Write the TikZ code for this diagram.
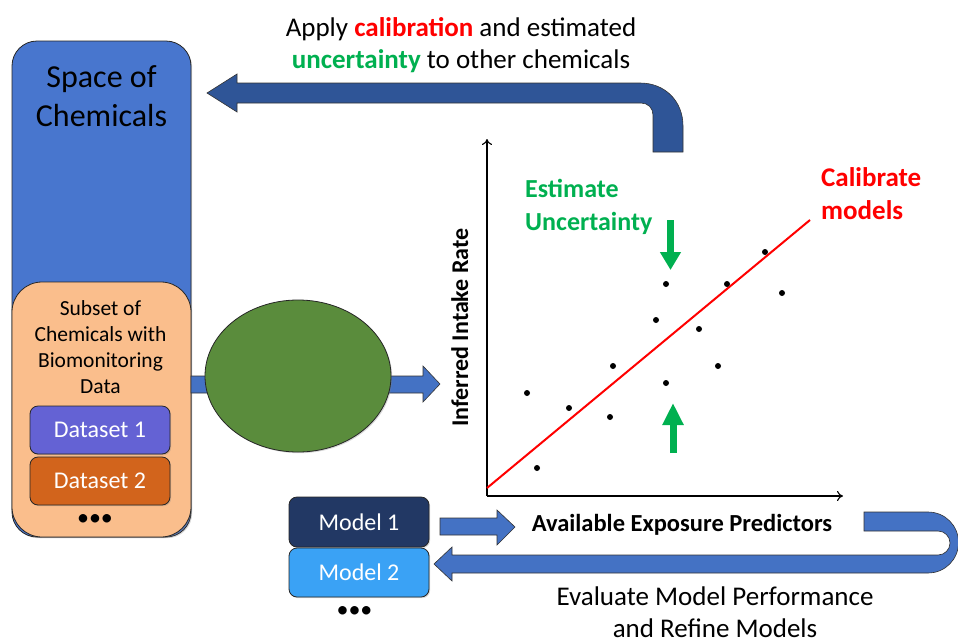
\documentclass[tikz,border=0pt]{standalone}
\usepackage{fontspec}
\setmainfont{Carlito}
\usetikzlibrary{arrows.meta,positioning,calc,shapes.geometric,shadows}

\definecolor{spaceblue}{RGB}{72,118,206}
\definecolor{arrowblue}{RGB}{68,114,196}
\definecolor{darkarrow}{RGB}{47,85,151}
\definecolor{peach}{RGB}{250,190,140}
\definecolor{setpurple}{RGB}{100,98,212}
\definecolor{setorange}{RGB}{210,100,28}
\definecolor{modelnavy}{RGB}{34,56,100}
\definecolor{modelsky}{RGB}{58,162,245}
\definecolor{fitgreen}{RGB}{90,140,60}
\definecolor{uncgreen}{RGB}{0,176,80}

\tikzset{
  box/.style={draw=black!85, line width=0.8pt, rounded corners=8pt, inner sep=0pt,
    drop shadow={shadow xshift=1.2pt, shadow yshift=-1.2pt, opacity=0.3}},
  setbox/.style={box, text=white, minimum width=140pt, font=\fontsize{24}{28}\selectfont},
  blockarrow/.style={draw=black!80, line width=0.6pt},
  lbl/.style={inner sep=0pt},
  axis/.style={line width=1.1pt, -{To[length=6pt,width=10pt]}},
}

\begin{document}
\begin{tikzpicture}[x=1pt,y=-1pt]
  \useasboundingbox (0,0) rectangle (958,643);
  % space of chemicals
  \node[box, rounded corners=25pt, fill=spaceblue, minimum width=179pt, minimum height=496pt] (space) at (101.5,289) {};
  \node[lbl, align=center, font=\fontsize{32}{39}\selectfont] (spacetxt) at (101.5,96) {Space of\\Chemicals};
  % subset with biomonitoring data
  \node[box, rounded corners=30pt, fill=peach, minimum width=179pt, minimum height=255pt] (subset) at (101.5,409.5) {};
  \node[lbl, align=center, font=\fontsize{21.5}{26}\selectfont] (subsettxt) at (100.5,347) {Subset of\\Chemicals with\\Biomonitoring\\Data};
  \node[setbox, fill=setpurple, minimum height=48pt] (data1) at (100,430) {Dataset 1};
  \node[setbox, fill=setorange, minimum height=48pt] (data2) at (100,481) {Dataset 2};
  \node[lbl, anchor=base, font=\fontsize{24}{28}\selectfont] (datadots) at (95,525) {•••};

  % apply step, back to the space of chemicals
  \filldraw[blockarrow, fill=darkarrow] (653,152) -- (653,115) .. controls (653,108) and (648,103) .. (641,103)
    -- (237,103) -- (237,112) -- (207,93) -- (237,74) -- (237,83) -- (640,83)
    .. controls (665,83) and (683,101) .. (683,126) -- (683,152) -- cycle;
  \node[lbl, align=center, font=\fontsize{27}{32}\selectfont] (applytxt) at (461,45)
    {Apply \textcolor{red}{\textbf{calibration}} and estimated\\\textcolor{uncgreen}{\textbf{uncertainty}} to other chemicals};

  % data into the fit
  \filldraw[blockarrow, fill=arrowblue] (191,376) -- (423,376) -- (423,366) -- (440,384)
    -- (423,402) -- (423,393) -- (191,393) -- cycle;
  \node[ellipse, draw=black!85, line width=0.8pt, fill=fitgreen, minimum width=186pt, minimum height=152pt,
    drop shadow={shadow xshift=1.2pt, shadow yshift=-1.2pt, opacity=0.3}] (stats) at (298,376) {};

  % models
  \node[setbox, fill=modelnavy, minimum height=50pt] (model1) at (359,522) {Model 1};
  \node[setbox, fill=modelsky, minimum height=49pt] (model2) at (359,572.5) {Model 2};
  \node[lbl, anchor=base, font=\fontsize{24}{28}\selectfont] (modeldots) at (354.5,617) {•••};

  % model 1 out
  \filldraw[blockarrow, fill=arrowblue] (440,518) -- (497,518) -- (497,510) -- (515,527)
    -- (497,545) -- (497,535) -- (440,535) -- cycle;
  % evaluate and refine, back to model 2
  \filldraw[blockarrow, fill=arrowblue] (864,512) -- (928,512)
    .. controls (945,512) and (958.5,525.5) .. (958.5,542.5)
    .. controls (958.5,559.5) and (945,573) .. (928,573)
    -- (452,573) -- (452,581) -- (434,564) -- (452,547) -- (452,555) -- (938,555)
    .. controls (944.6,555) and (950,549.6) .. (950,543)
    .. controls (950,536.4) and (944.6,531) .. (938,531) -- (864,531) -- cycle;
  \node[lbl, align=center, font=\fontsize{27}{32}\selectfont] (evaltxt) at (715,612)
    {Evaluate Model Performance\\and Refine Models};

  % plot
  \coordinate (origin) at (487,496);
  \coordinate (ytop) at (487,139);
  \coordinate (xend) at (843,496);
  \draw[axis] (origin) -- (ytop);
  \draw[axis] (origin) -- (xend);
  \node[lbl, anchor=base, font=\fontsize{24.5}{28}\selectfont\bfseries] (xlabel) at (682,531) {Available Exposure Predictors};
  \node[lbl, anchor=base, rotate=90, font=\fontsize{24}{28}\selectfont\bfseries] (ylabel) at (468,327.5) {Inferred Intake Rate};
  \coordinate (fitlo) at (487,488);
  \coordinate (fithi) at (810,220);
  \draw[red, line width=2pt] (fitlo) -- (fithi);
  \foreach \px/\py in {527/393, 537/468, 569/408, 610/417, 613/366, 656/320, 666/284,
                       666/383, 699/329, 718/366, 727/284, 765/252, 782/293}
    \fill (\px,\py) circle (3pt);
  \node[lbl, anchor=west, align=left, text=red, font=\fontsize{27}{33}\selectfont\bfseries] (caltxt) at (821,193.5) {Calibrate\\models};
  \node[lbl, anchor=west, align=left, text=uncgreen, font=\fontsize{26}{33}\selectfont\bfseries] (unctxt) at (525,206.5) {Estimate\\Uncertainty};
  % uncertainty arrows
  \coordinate (dntop) at (670.5,220);
  \coordinate (dntip) at (670.5,270);
  \coordinate (upbot) at (673,453);
  \coordinate (uptip) at (673,403);
  \draw[uncgreen, line width=6.5pt, -{Triangle[length=18pt,width=20pt]}] (dntop) -- (dntip);
  \draw[uncgreen, line width=7pt, -{Triangle[length=22pt,width=20pt]}] (upbot) -- (uptip);
\end{tikzpicture}
\end{document}
